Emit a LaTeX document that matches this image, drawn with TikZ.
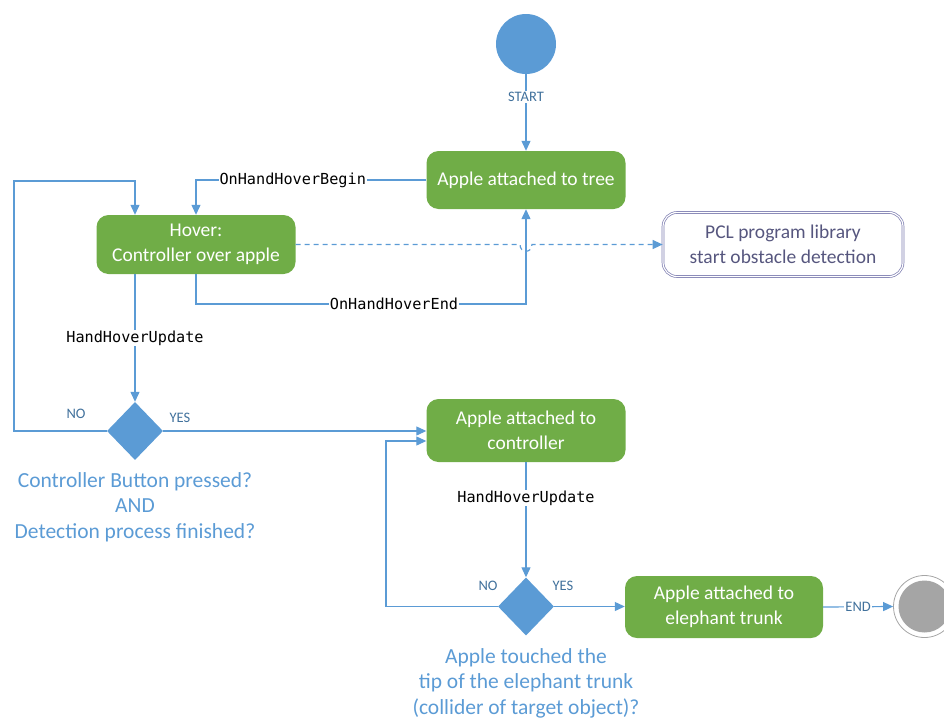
\documentclass[tikz,border=0pt]{standalone}
\usepackage{fontspec}
\setmainfont{Carlito}
\newfontfamily\monof{DejaVu Sans Mono}
\usetikzlibrary{arrows.meta,shapes.geometric}
\definecolor{lblue}{HTML}{5B9BD5}
\definecolor{dblue}{HTML}{41719C}
\definecolor{ogreen}{HTML}{70AD47}
\definecolor{pclc}{HTML}{7C7CB0}
\definecolor{pcltext}{HTML}{56567E}
\definecolor{endgray}{HTML}{A5A5A5}
\begin{document}
\begin{tikzpicture}[x=1pt,y=-1pt,
  conn/.style={draw=lblue,line width=1.2pt},
  arr/.style={conn,-{Triangle[length=10pt,width=9pt]}},
  greenbox/.style={rectangle,rounded corners=12pt,fill=ogreen,text=white,align=center,
    font=\fontsize{19.5}{25.5}\selectfont,inner sep=2pt},
  decision/.style={diamond,fill=lblue,minimum width=56pt,minimum height=58pt,inner sep=0pt,text width=0pt},
  monolbl/.style={fill=white,inner sep=1pt,font=\monof\fontsize{15.2}{17}\selectfont,text=black},
  smalllbl/.style={fill=white,inner sep=1pt,font=\fontsize{14.5}{16}\selectfont,text=dblue},
  yesno/.style={inner sep=0pt,font=\fontsize{14.5}{16}\selectfont,text=dblue},
  bluetext/.style={align=center,text=lblue,font=\fontsize{21.5}{25.5}\selectfont,inner sep=0pt}]
\useasboundingbox (0,0) rectangle (944,720);
\node[circle,fill=lblue,minimum size=60pt,inner sep=0pt] (start) at (526,44) {};
\node[greenbox,minimum width=199pt,minimum height=58pt] (tree) at (526,180) {Apple attached to tree};
\node[greenbox,minimum width=199pt,minimum height=59pt] (hover) at (196,244.5) {Hover:\\Controller over apple};
\node[rectangle,rounded corners=14pt,draw=pclc,line width=0.7pt,double=white,double distance=1.2pt,
  minimum width=240pt,minimum height=64pt,align=center,text=pcltext,
  font=\fontsize{19.5}{25.5}\selectfont] (pcl) at (783,244.5) {PCL program library\\start obstacle detection};
\node[decision] (d1) at (135,431) {};
\node[greenbox,minimum width=199pt,minimum height=63pt] (ctrl) at (526,430.5) {Apple attached to\\controller};
\node[decision] (d2) at (526,606.5) {};
\node[greenbox,minimum width=198pt,minimum height=62pt] (trunk) at (724,607) {Apple attached to\\elephant trunk};
\node[circle,draw=endgray,line width=0.8pt,minimum size=62pt,inner sep=0pt] (endc) at (924.5,606.5) {};
\node[circle,fill=endgray,minimum size=52pt,inner sep=0pt] (endin) at (endc) {};
% texts
\node[yesno] (no1) at (76,414) {NO};
\node[yesno] (yes1) at (180,418) {YES};
\node[yesno] (no2) at (488,586) {NO};
\node[yesno] (yes2) at (563,586) {YES};
\node[bluetext] (q1) at (135,507) {Controller Button pressed?\\AND\\Detection process finished?};
\node[bluetext] (q2) at (526,683) {Apple touched the\\tip of the elephant trunk\\(collider of target object)?};
% coordinates
\coordinate (la) at (14,181);
\coordinate (hb) at (526,304);
\coordinate (c2) at (386,441);
\coordinate (hopa) at (520,244.5);
\coordinate (hopb) at (532,244.5);
% connectors
\draw[arr] (start.south) -- node[smalllbl,pos=0.3]{START} (tree.north);
\draw[arr] (tree.west) -| node[monolbl,pos=0.29]{OnHandHoverBegin} (hover.north);
\draw[arr] (d1.west) -| (la) -| ([xshift=-61pt]hover.north);
\draw[arr] (hover.south) |- node[monolbl,pos=0.8]{OnHandHoverEnd} (hb) -- (tree.south);
\draw[arr] ([xshift=-61pt]hover.south) -- node[monolbl,pos=0.5]{HandHoverUpdate} (d1.north);
\draw[arr,dash pattern=on 5pt off 4pt] (hover.east) -- (hopa) .. controls ([yshift=-9pt]hopa) and ([yshift=-9pt]hopb) .. (hopb) -- (pcl.west);
\draw[arr] (d1.east) -- (d1.east -| ctrl.west);
\draw[arr] (d2.west) -| (c2) -- (c2 -| ctrl.west);
\draw[arr] (ctrl.south) -- node[monolbl,pos=0.31]{HandHoverUpdate} (d2.north);
\draw[arr] (d2.east) -- (d2.east -| trunk.west);
\draw[arr] (trunk.east) -- node[smalllbl,pos=0.5]{END} (endc.west);
\end{tikzpicture}
\end{document}
